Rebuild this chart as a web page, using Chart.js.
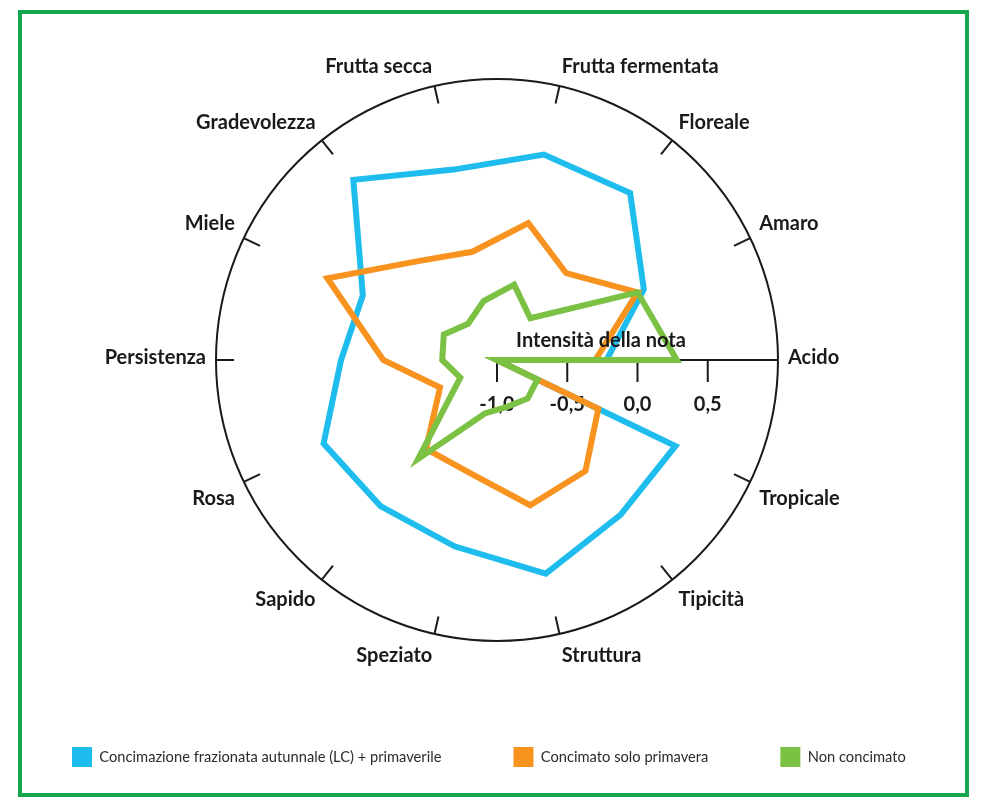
<!DOCTYPE html>
<html>
<head>
<meta charset="utf-8">
<script src="https://cdn.jsdelivr.net/npm/chart.js@4.4.1/dist/chart.umd.min.js"></script>
<style>
    html, body { margin: 0; padding: 0; background: #fff; }
    #wrap { position: relative; width: 1000px; height: 810px; }
    #frame { position: absolute; left: 18px; top: 10px; width: 943px; height: 779px; border: 4px solid #14a64c; }
    #radar { position: absolute; left: 0; top: 0; }
</style>
</head>
<body>
<div id="wrap">
    <div id="frame"></div>
    <canvas id="radar" width="1000" height="810"></canvas>
</div>
<script>
// Categories, clockwise starting from the right-hand axis
const labels = ['Acido', 'Tropicale', 'Tipicità', 'Struttura', 'Speziato', 'Sapido', 'Rosa',
    'Persistenza', 'Miele', 'Gradevolezza', 'Frutta secca', 'Frutta fermentata', 'Floreale', 'Amaro'];

const seriesNames = ['Concimazione frazionata autunnale (LC) + primaverile', 'Concimato solo primavera', 'Non concimato'];
const seriesColors = ['#1fbdee', '#f7931e', '#7bc143'];

// Intensità della nota, same order as labels
const concimazioneLC = [-0.22, 0.41, 0.41, 0.56, 0.36, 0.33, 0.37, 0.11, 0.06, 0.64, 0.39, 0.50, 0.52, 0.16];
const soloPrimavera = [-0.30, -0.20, 0.01, 0.06, -0.17, -0.19, -0.55, -0.19, 0.34, -0.10, -0.21, 0.00, -0.21, 0.11];
const nonConcimato = [0.28, -0.68, -0.65, -0.66, -0.61, -0.10, -0.71, -0.61, -0.58, -0.67, -0.57, -0.45, -0.62, 0.11];

const tickValues = [-1.0, -0.5, 0.0, 0.5];
const scaleMin = -1;
const scaleMax = 1;
const axisTitle = 'Intensità della nota';

const labelFont = 'bold 20px Lato';
const ink = '#1a1a1a';

// The lines start at the centre, run round and finish on "Acido";
// index 14 falls on the same angle as index 0.
function openPath(values) {
    return [scaleMin, ...values.slice(1), values[0]];
}

// Axis ticks, category labels and axis title
const radarDecor = {
    id: 'radarDecor',
    beforeDatasetsDraw(chart) {
        const r = chart.scales.r;
        const ctx = chart.ctx;
        ctx.save();
        ctx.strokeStyle = ink;
        ctx.fillStyle = ink;
        ctx.lineWidth = 2;
        ctx.font = labelFont;
        ctx.textAlign = 'center';
        ctx.textBaseline = 'middle';

        tickValues.forEach(v => {
            const x = r.xCenter + r.getDistanceFromCenterForValue(v);
            ctx.beginPath();
            ctx.moveTo(x, r.yCenter);
            ctx.lineTo(x, r.yCenter + 22);
            ctx.stroke();
            ctx.fillText(v.toFixed(1).replace('.', ','), x, r.yCenter + 45);
        });

        labels.forEach((label, i) => {
            const pos = r.getPointPosition(i, r.drawingArea + 10);
            const deg = Math.round(r.getIndexAngle(i) * 180 / Math.PI * 100) / 100 % 360;
            let align = 'left';
            if (deg === 0 || deg === 180) align = 'center';
            else if (deg > 180) align = 'right';
            let y = pos.y;
            if (deg === 90 || deg === 270) y = pos.y - 2;
            else if (deg > 270 || deg < 90) y = pos.y - 10;
            else y = pos.y + 12;
            ctx.textAlign = align;
            ctx.fillText(label, pos.x, y);
        });
        ctx.restore();
    },
    afterDatasetsDraw(chart) {
        const r = chart.scales.r;
        const ctx = chart.ctx;
        ctx.save();
        ctx.fillStyle = ink;
        ctx.font = labelFont;
        ctx.textAlign = 'center';
        ctx.textBaseline = 'middle';
        ctx.fillText(axisTitle, r.xCenter + r.getDistanceFromCenterForValue(-0.26), r.yCenter - 19);
        ctx.restore();
    }
};

const values = [concimazioneLC, soloPrimavera, nonConcimato];

new Chart(document.getElementById('radar'), {
    type: 'radar',
    data: {
        labels: labels,
        datasets: values.map((vals, i) => ({
            label: seriesNames[i],
            data: openPath(vals),
            borderColor: seriesColors[i],
            backgroundColor: seriesColors[i],
            borderWidth: 6,
            borderJoinStyle: 'miter',
            fill: false,
            spanGaps: true,
            pointRadius: 0,
            pointHoverRadius: 0,
            order: values.length - 1 - i
        }))
    },
    options: {
        responsive: false,
        animation: false,
        layout: {
            padding: { left: 0, right: 6, top: 79, bottom: 33 }
        },
        scales: {
            r: {
                min: scaleMin,
                max: scaleMax,
                startAngle: 90,
                ticks: { display: false, stepSize: 0.5 },
                pointLabels: { display: false },
                grid: {
                    circular: true,
                    lineWidth: 2,
                    color: ctx => ctx.tick && ctx.tick.value === scaleMax ? ink : 'rgba(0,0,0,0)'
                },
                angleLines: {
                    color: ink,
                    lineWidth: 2,
                    borderDash: ctx => {
                        if (ctx.index === 0) return [];
                        const len = ctx.chart.scales.r.drawingArea;
                        return [0, len - 18, 18];
                    }
                }
            }
        },
        plugins: {
            tooltip: { enabled: false },
            legend: {
                position: 'bottom',
                align: 'start',
                title: { display: true, text: '', font: { size: 10, lineHeight: 1 }, padding: { top: 24, bottom: 0 } },
                labels: {
                    boxWidth: 20,
                    boxHeight: 20,
                    padding: 72,
                    color: '#2b2b2b',
                    font: { family: 'Lato', size: 14.7 },
                    sort: (a, b) => a.datasetIndex - b.datasetIndex,
                    generateLabels: chart => Chart.defaults.plugins.legend.labels.generateLabels(chart)
                        .map(item => Object.assign(item, { lineWidth: 0 }))
                }
            }
        }
    },
    plugins: [radarDecor]
});
</script>
</body>
</html>
